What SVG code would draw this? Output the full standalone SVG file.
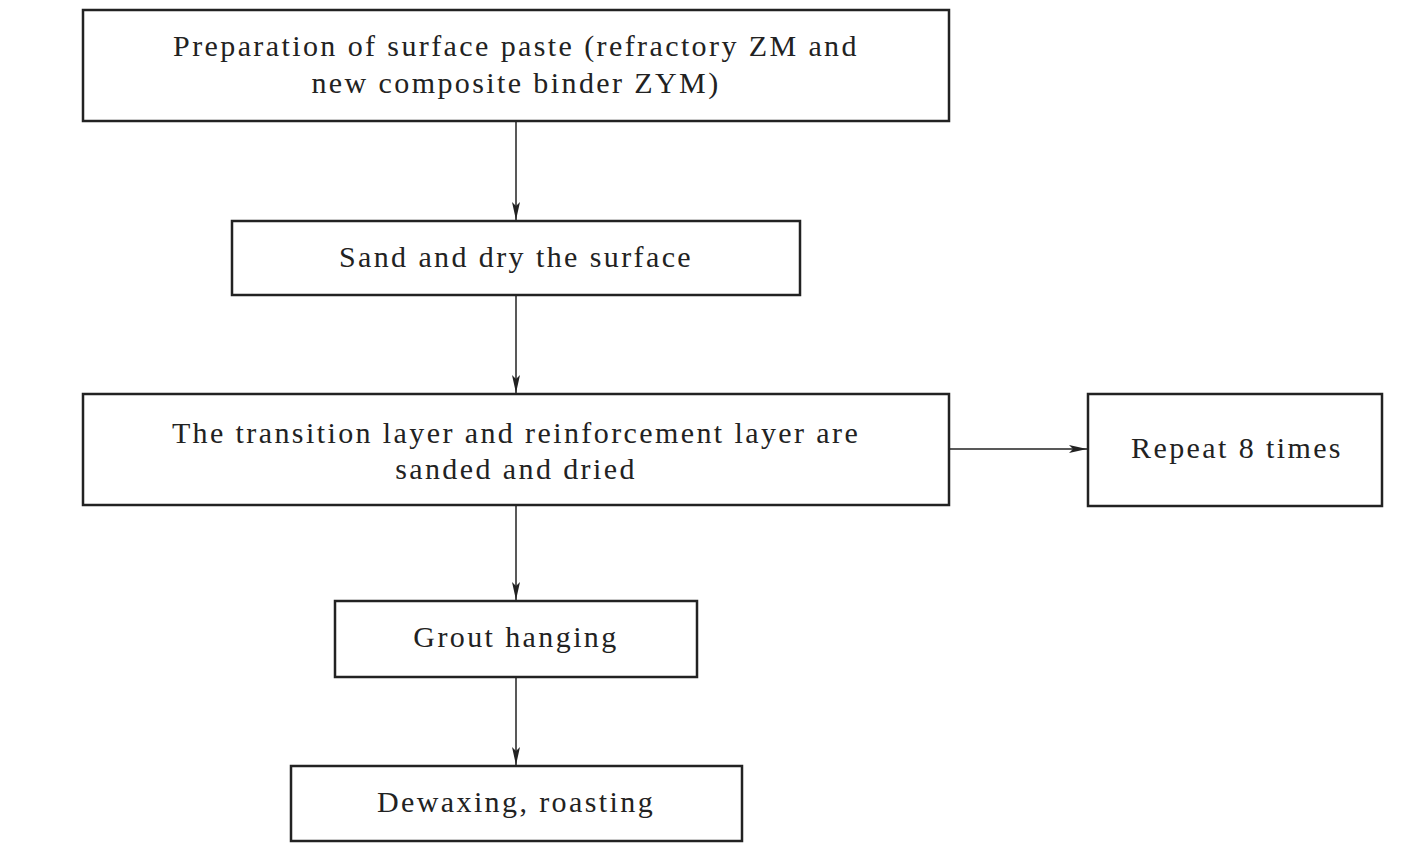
<svg xmlns="http://www.w3.org/2000/svg" width="1426" height="849" viewBox="0 0 1426 849">
<defs>
<style>
.box{fill:#fff;stroke:#222;stroke-width:2.5}
.t{font-family:"Liberation Serif","Times New Roman",serif;font-size:30px;fill:#222;text-anchor:middle;letter-spacing:2.4px}
.c{stroke:#222;stroke-width:1.5;fill:none;marker-end:url(#a)}
</style>
<marker id="a" viewBox="0 0 18 10" refX="18" refY="5" markerWidth="18" markerHeight="10" markerUnits="userSpaceOnUse" orient="auto"><path d="M0,1 L18,5 L0,9 L4,5 Z" fill="#222"/></marker>
</defs>
<rect width="1426" height="849" fill="#fff"/>
<g id="connectors">
<line class="c" x1="516" y1="121" x2="516" y2="220"/>
<line class="c" x1="516" y1="295" x2="516" y2="393"/>
<line class="c" x1="516" y1="505" x2="516" y2="600"/>
<line class="c" x1="516" y1="677" x2="516" y2="765"/>
<line class="c" x1="949" y1="449" x2="1087" y2="449"/>
</g>
<g id="n1"><rect class="box" x="83" y="10" width="866" height="111"/>
<text class="t" x="516" y="56">Preparation of surface paste (refractory ZM and</text>
<text class="t" x="516" y="93">new composite binder ZYM)</text></g>
<g id="n2"><rect class="box" x="232" y="221" width="568" height="74"/>
<text class="t" x="516" y="267">Sand and dry the surface</text></g>
<g id="n3"><rect class="box" x="83" y="394" width="866" height="111"/>
<text class="t" x="516" y="443">The transition layer and reinforcement layer are</text>
<text class="t" x="516" y="479">sanded and dried</text></g>
<g id="n4"><rect class="box" x="1088" y="394" width="294" height="112"/>
<text class="t" x="1237" y="458">Repeat 8 times</text></g>
<g id="n5"><rect class="box" x="335" y="601" width="362" height="76"/>
<text class="t" x="516" y="647">Grout hanging</text></g>
<g id="n6"><rect class="box" x="291" y="766" width="451" height="75"/>
<text class="t" x="516" y="812">Dewaxing, roasting</text></g>
</svg>
